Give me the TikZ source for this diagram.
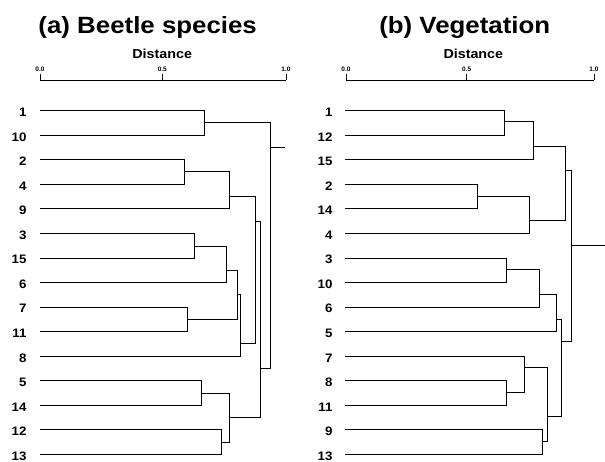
\documentclass[tikz,border=0pt]{standalone}
\usepackage{fontspec}
\setmainfont{Liberation Sans}
\newcommand\dmerge[3]{\draw (#1) -- (#1 -| #3) -- (#2 -| #3) -- (#2);}
\begin{document}
\begin{tikzpicture}[x=1pt,y=-1pt, line width=0.9pt,
  ttl/.style={font=\bfseries\fontsize{23.5}{28}\selectfont, xscale=1.1, inner sep=0, anchor=base},
  dist/.style={font=\bfseries\fontsize{13}{15}\selectfont, xscale=1.1, inner sep=0, anchor=base},
  ticklab/.style={font=\bfseries\fontsize{6.5}{7}\selectfont, inner sep=0, anchor=base},
  lab/.style={font=\bfseries\fontsize{12.3}{14}\selectfont, xscale=1.08, inner sep=0, anchor=base east},
]
\useasboundingbox (0,0) rectangle (605,462);

% titles
\node[ttl] (ta) at (147.7,33.5) {(a) Beetle species};
\node[ttl] (tb) at (464.7,33.5) {(b) Vegetation};
\node[dist] (da) at (162.2,58.3) {Distance};
\node[dist] (db) at (473.3,58.3) {Distance};

% axes
\coordinate (ax0) at (40,80);
\coordinate (axm) at (162.3,80);
\coordinate (ax1) at (286,80);
\coordinate (bx0) at (346,80);
\coordinate (bxm) at (466.7,80);
\coordinate (bx1) at (594,80);
\draw[line width=0.6pt] (ax0) -- (ax1);
\draw[line width=0.6pt] (bx0) -- (bx1);
\foreach \c in {ax0,axm,ax1,bx0,bxm,bx1} {\draw[line width=0.6pt] (\c) -- ++(0,-6);}
\node[ticklab] (tla0) at (40,72) {0.0};
\node[ticklab] (tlam) at (162.3,72) {0.5};
\node[ticklab] (tla1) at (286,72) {1.0};
\node[ticklab] (tlb0) at (346,72) {0.0};
\node[ticklab] (tlbm) at (466.7,72) {0.5};
\node[ticklab] (tlb1) at (594,72) {1.0};

% leaves (a)
\foreach \t [count=\i from 0] in {1,10,2,4,9,3,15,6,7,11,8,5,14,12,13} {
  \node[lab] (la\t) at (27,{110.7+24.55*\i+5.8}) {\t};
  \coordinate (a\t) at (40,{110.7+24.55*\i});
}
% leaves (b)
\foreach \t [count=\i from 0] in {1,12,15,2,14,4,3,10,6,5,7,8,11,9,13} {
  \node[lab] (lb\t) at (333,{110.7+24.55*\i+5.8}) {\t};
  \coordinate (b\t) at (345,{110.7+24.55*\i});
}

% merges (a)
\coordinate (A1) at (204.3,122.3);
\coordinate (A2) at (184.3,171.7);
\coordinate (A3) at (229.3,196.7);
\coordinate (A4) at (194.7,246);
\coordinate (A5) at (226.7,270.7);
\coordinate (A6) at (187.3,319.3);
\coordinate (A7) at (237.3,294.3);
\coordinate (A8) at (240.3,343.3);
\coordinate (A9) at (255,221.7);
\coordinate (A10) at (201,393.3);
\coordinate (A11) at (221.7,442.7);
\coordinate (A12) at (229.3,417.7);
\coordinate (A13) at (260.7,368.3);
\coordinate (A14) at (270,147);
\coordinate (Aend) at (285,147);
\dmerge{a1}{a10}{A1}
\dmerge{a2}{a4}{A2}
\dmerge{A2}{a9}{A3}
\dmerge{a3}{a15}{A4}
\dmerge{A4}{a6}{A5}
\dmerge{a7}{a11}{A6}
\dmerge{A5}{A6}{A7}
\dmerge{A7}{a8}{A8}
\dmerge{A3}{A8}{A9}
\dmerge{a5}{a14}{A10}
\dmerge{a12}{a13}{A11}
\dmerge{A10}{A11}{A12}
\dmerge{A9}{A12}{A13}
\dmerge{A1}{A13}{A14}
\draw (A14) -- (Aend);

% merges (b)
\coordinate (B1) at (504.7,121.7);
\coordinate (B2) at (533.3,146);
\coordinate (B3) at (477.7,196);
\coordinate (B4) at (529.3,220);
\coordinate (B5) at (565.7,170.7);
\coordinate (B6) at (506,269.3);
\coordinate (B7) at (539.3,294);
\coordinate (B8) at (556.7,319);
\coordinate (B9) at (506.7,392.7);
\coordinate (B10) at (524,367.7);
\coordinate (B11) at (542.3,441.7);
\coordinate (B12) at (547.3,416.7);
\coordinate (B13) at (561,341.7);
\coordinate (B14) at (571,245);
\coordinate (Bend) at (605,245);
\dmerge{b1}{b12}{B1}
\dmerge{B1}{b15}{B2}
\dmerge{b2}{b14}{B3}
\dmerge{B3}{b4}{B4}
\dmerge{B2}{B4}{B5}
\dmerge{b3}{b10}{B6}
\dmerge{B6}{b6}{B7}
\dmerge{B7}{b5}{B8}
\dmerge{b8}{b11}{B9}
\dmerge{b7}{B9}{B10}
\dmerge{b9}{b13}{B11}
\dmerge{B10}{B11}{B12}
\dmerge{B8}{B12}{B13}
\dmerge{B5}{B13}{B14}
\draw (B14) -- (Bend);
\end{tikzpicture}
\end{document}
